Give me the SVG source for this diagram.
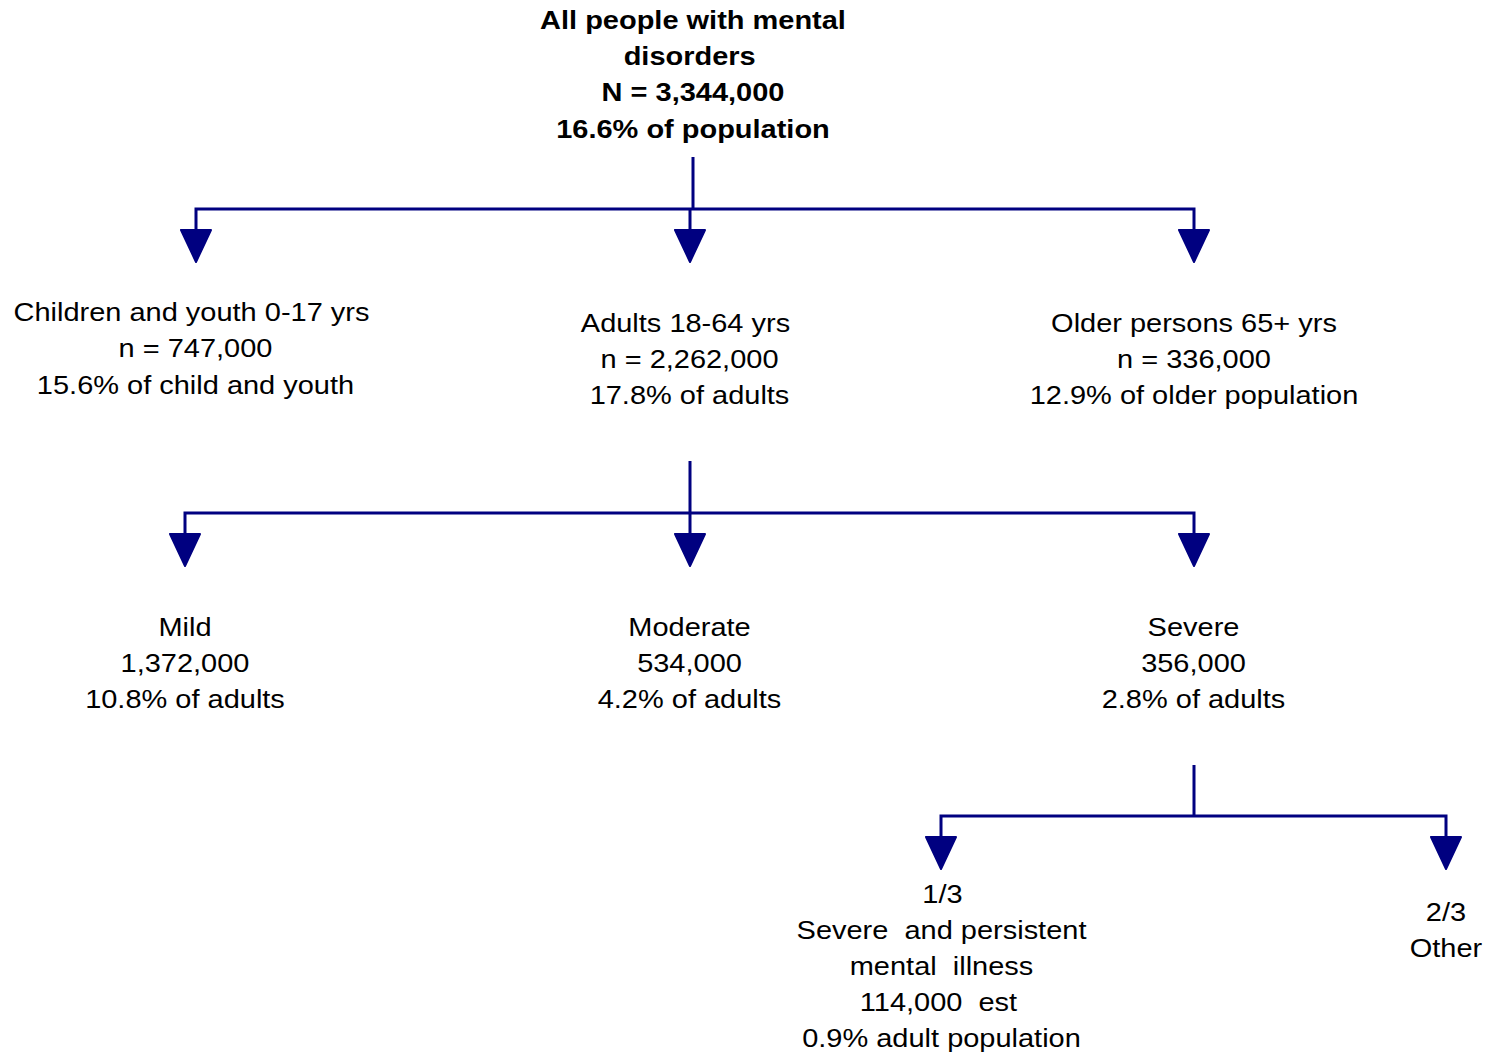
<svg xmlns="http://www.w3.org/2000/svg" width="1492" height="1052" viewBox="0 0 1492 1052">
<style>
text{font-family:"Liberation Sans",Arial,sans-serif;font-size:26px;fill:#000;text-anchor:middle;white-space:pre}
.b{font-weight:bold}
.ln{stroke:#000080;stroke-width:3;fill:none}
.ah{fill:#000080;stroke:#000080;stroke-width:2;stroke-linejoin:round}
</style>
<defs>
<path id="arr" d="M-15,0 L15,0 L0,32 Z"/>
</defs>
<rect width="1492" height="1052" fill="#fff"/>
<g id="connectors">
<path class="ln" d="M693,157 V209 M196,230 V209 H1194 V230 M690,209 V230"/>
<use href="#arr" class="ah" x="196" y="230"/>
<use href="#arr" class="ah" x="690" y="230"/>
<use href="#arr" class="ah" x="1194" y="230"/>
<path class="ln" d="M690,461 V513 M185,534 V513 H1194 V534 M690,513 V534"/>
<use href="#arr" class="ah" x="185" y="534"/>
<use href="#arr" class="ah" x="690" y="534"/>
<use href="#arr" class="ah" x="1194" y="534"/>
<path class="ln" d="M1194,765 V816 M941,837 V816 H1446 V837"/>
<use href="#arr" class="ah" x="941" y="837"/>
<use href="#arr" class="ah" x="1446" y="837"/>
</g>
<g id="root" transform="translate(693,0) scale(1.115,1)">
<text class="b" x="0" y="29">All people with mental</text>
<text class="b" x="-3" y="65">disorders</text>
<text class="b" x="0" y="101">N = 3,344,000</text>
<text class="b" x="0" y="138">16.6% of population</text>
</g>
<g id="children" transform="translate(195.5,0) scale(1.115,1)">
<text x="-3.6" y="321">Children and youth 0-17 yrs</text>
<text x="0" y="357">n = 747,000</text>
<text x="0" y="394">15.6% of child and youth</text>
</g>
<g id="adults" transform="translate(689.5,0) scale(1.115,1)">
<text x="-3.6" y="332">Adults 18-64 yrs</text>
<text x="0" y="368">n = 2,262,000</text>
<text x="0" y="404">17.8% of adults</text>
</g>
<g id="older" transform="translate(1194,0) scale(1.115,1)">
<text x="0" y="332">Older persons 65+ yrs</text>
<text x="0" y="368">n = 336,000</text>
<text x="0" y="404">12.9% of older population</text>
</g>
<g id="mild" transform="translate(185,0) scale(1.115,1)">
<text x="0" y="636">Mild</text>
<text x="0" y="672">1,372,000</text>
<text x="0" y="708">10.8% of adults</text>
</g>
<g id="moderate" transform="translate(689.5,0) scale(1.115,1)">
<text x="0" y="636">Moderate</text>
<text x="0" y="672">534,000</text>
<text x="0" y="708">4.2% of adults</text>
</g>
<g id="severe" transform="translate(1193.5,0) scale(1.115,1)">
<text x="0" y="636">Severe</text>
<text x="0" y="672">356,000</text>
<text x="0" y="708">2.8% of adults</text>
</g>
<g id="spmi" transform="translate(941.5,0) scale(1.115,1)">
<text x="0.9" y="903">1/3</text>
<text x="0" y="939">Severe  and persistent</text>
<text x="0" y="975">mental  illness</text>
<text x="-2.7" y="1011">114,000  est</text>
<text x="0" y="1047">0.9% adult population</text>
</g>
<g id="other" transform="translate(1446,0) scale(1.115,1)">
<text x="0" y="921">2/3</text>
<text x="0" y="957">Other</text>
</g>
</svg>
